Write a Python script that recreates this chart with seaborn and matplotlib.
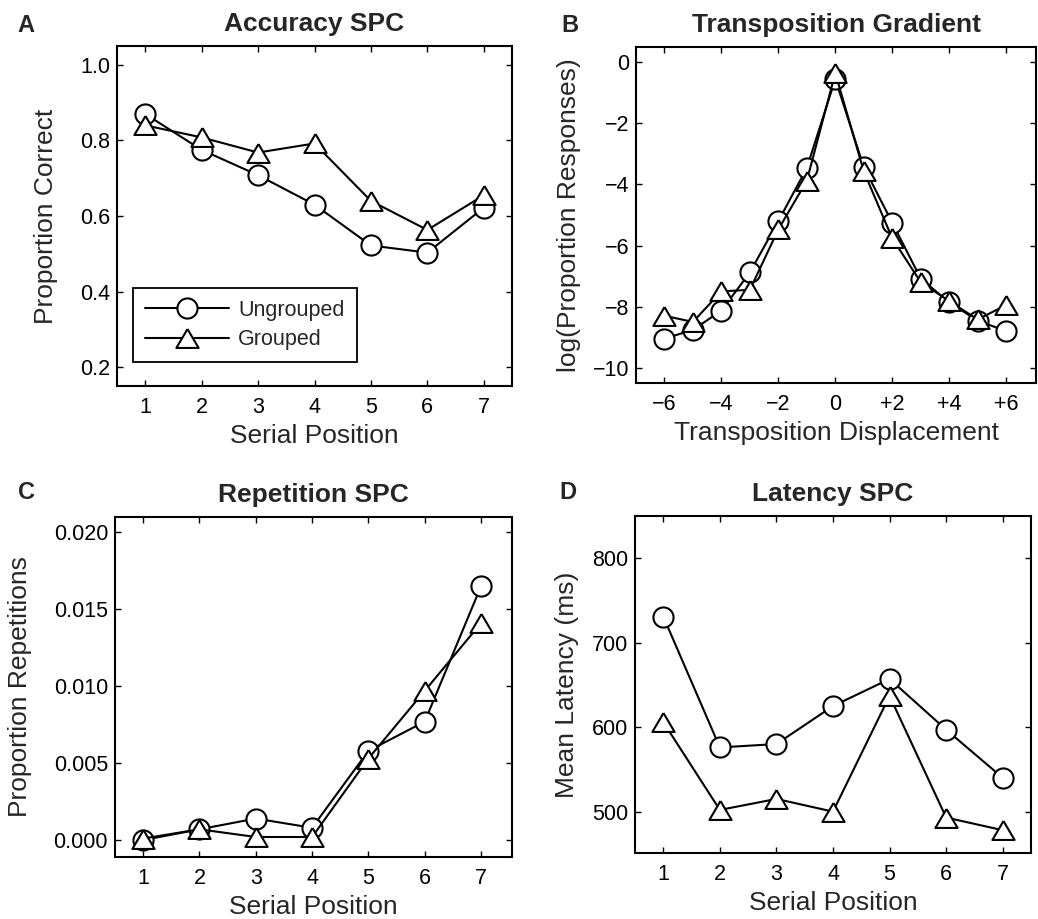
import matplotlib
matplotlib.use("Agg")
import matplotlib.pyplot as plt
import seaborn as sns

# ---------------- data ----------------
positions = [1, 2, 3, 4, 5, 6, 7]
displacements = [-6, -5, -4, -3, -2, -1, 0, 1, 2, 3, 4, 5, 6]
disp_ticks = [-6, -4, -2, 0, 2, 4, 6]
disp_tick_labels = ["\u22126", "\u22124", "\u22122", "0", "+2", "+4", "+6"]

acc_ungrouped = [0.870, 0.775, 0.708, 0.630, 0.522, 0.503, 0.622]
acc_grouped = [0.840, 0.808, 0.768, 0.792, 0.640, 0.563, 0.655]

trans_ungrouped = [-9.05, -8.76, -8.13, -6.88, -5.20, -3.46, -0.55,
                   -3.43, -5.25, -7.08, -7.86, -8.46, -8.80]
trans_grouped = [-8.30, -8.50, -7.50, -7.45, -5.47, -3.88, -0.35,
                 -3.57, -5.76, -7.20, -7.82, -8.42, -7.95]

rep_ungrouped = [0.0000, 0.0007, 0.0014, 0.0008, 0.0058, 0.0077, 0.0165]
rep_grouped = [0.0001, 0.0007, 0.0002, 0.0002, 0.0053, 0.0097, 0.0141]

lat_ungrouped = [731, 576, 580, 625, 657, 597, 540]
lat_grouped = [606, 502, 515, 500, 637, 493, 478]

series_labels = ["Ungrouped", "Grouped"]

# ---------------- style ----------------
sns.set_theme(style="ticks")
plt.rcParams["font.family"] = ["Liberation Sans", "DejaVu Sans"]
plt.rcParams["axes.unicode_minus"] = True

fig = plt.figure(figsize=(10.38, 9.19), dpi=100)

W, H = 1038.0, 919.0


def px_axes(left, top, right, bottom):
    return fig.add_axes([left / W, 1 - bottom / H, (right - left) / W, (bottom - top) / H])


axA = px_axes(117, 46, 512, 386)
axB = px_axes(636, 47, 1036, 383)
axC = px_axes(115, 517, 512, 857)
axD = px_axes(635, 516, 1031, 853)

tri = [(0, 0.85), (-1, -0.85), (1, -0.85), (0, 0.85)]

LW = 1.5
common = dict(color="black", linewidth=LW, markerfacecolor="white",
              markeredgecolor="black", markeredgewidth=LW, errorbar=None)


def draw(ax, x, yu, yg):
    n0 = len(ax.lines)
    sns.lineplot(x=x, y=yu, ax=ax, marker="o", markersize=14.5, **common)
    sns.lineplot(x=x, y=yg, ax=ax, marker=tri, markersize=16, **common)
    return ax.lines[n0], ax.lines[n0 + 1]


def style(ax, title, xlabel, ylabel, ylab_x):
    ax.set_title(title, fontsize=19, fontweight="bold", pad=11)
    ax.set_xlabel(xlabel, fontsize=19, labelpad=4)
    ax.set_ylabel(ylabel, fontsize=19)
    ax.yaxis.set_label_coords(ylab_x, 0.5)
    ax.tick_params(axis="both", direction="in", top=True, right=True,
                   length=4, width=1.0, labelsize=15.5, colors="black")
    ax.tick_params(axis="x", pad=8)
    ax.tick_params(axis="y", pad=5)
    for sp in ax.spines.values():
        sp.set_visible(True)
        sp.set_color("black")
        sp.set_linewidth(1.5)


# A
lu, lg = draw(axA, positions, acc_ungrouped, acc_grouped)
axA.set_xlim(0.5, 7.5)
axA.set_ylim(0.15, 1.05)
axA.set_xticks(positions)
axA.set_yticks([0.2, 0.4, 0.6, 0.8, 1.0])
axA.set_yticklabels(["0.2", "0.4", "0.6", "0.8", "1.0"])
style(axA, "Accuracy SPC", "Serial Position", "Proportion Correct", -0.15)
leg = axA.legend([lu, lg], series_labels, loc="lower left",
                 bbox_to_anchor=(0.04, 0.07), frameon=True, fancybox=False,
                 edgecolor="black", framealpha=1, handlelength=3.9,
                 handletextpad=0.45, numpoints=1, fontsize=15.5,
                 borderpad=0.55, labelspacing=0.4, borderaxespad=0)
leg.get_frame().set_linewidth(1.3)

# B
draw(axB, displacements, trans_ungrouped, trans_grouped)
axB.set_xlim(-7, 7.05)
axB.set_ylim(-10.5, 0.5)
axB.set_xticks(disp_ticks)
axB.set_xticklabels(disp_tick_labels)
axB.set_yticks([0, -2, -4, -6, -8, -10])
axB.set_yticklabels(["0", "\u22122", "\u22124", "\u22126", "\u22128", "\u221210"])
style(axB, "Transposition Gradient", "Transposition Displacement",
      "log(Proportion Responses)", -0.1375)

# C
draw(axC, positions, rep_ungrouped, rep_grouped)
axC.set_xlim(0.5, 7.55)
axC.set_ylim(-0.0011, 0.021)
axC.set_xticks(positions)
axC.set_yticks([0.0, 0.005, 0.010, 0.015, 0.020])
axC.set_yticklabels(["0.000", "0.005", "0.010", "0.015", "0.020"])
style(axC, "Repetition SPC", "Serial Position", "Proportion Repetitions", -0.21)

# D
draw(axD, positions, lat_ungrouped, lat_grouped)
axD.set_xlim(0.5, 7.5)
axD.set_ylim(451, 850)
axD.set_xticks(positions)
axD.set_yticks([500, 600, 700, 800])
style(axD, "Latency SPC", "Serial Position", "Mean Latency (ms)", -0.1407)

# panel letters
for letter, x, y in [("A", 17, 32), ("B", 561, 32), ("C", 18, 499), ("D", 559, 499)]:
    fig.text(x / W, 1 - y / H, letter, fontsize=17, fontweight="bold",
             va="baseline", ha="left")

fig.savefig("out.png", dpi=100)
